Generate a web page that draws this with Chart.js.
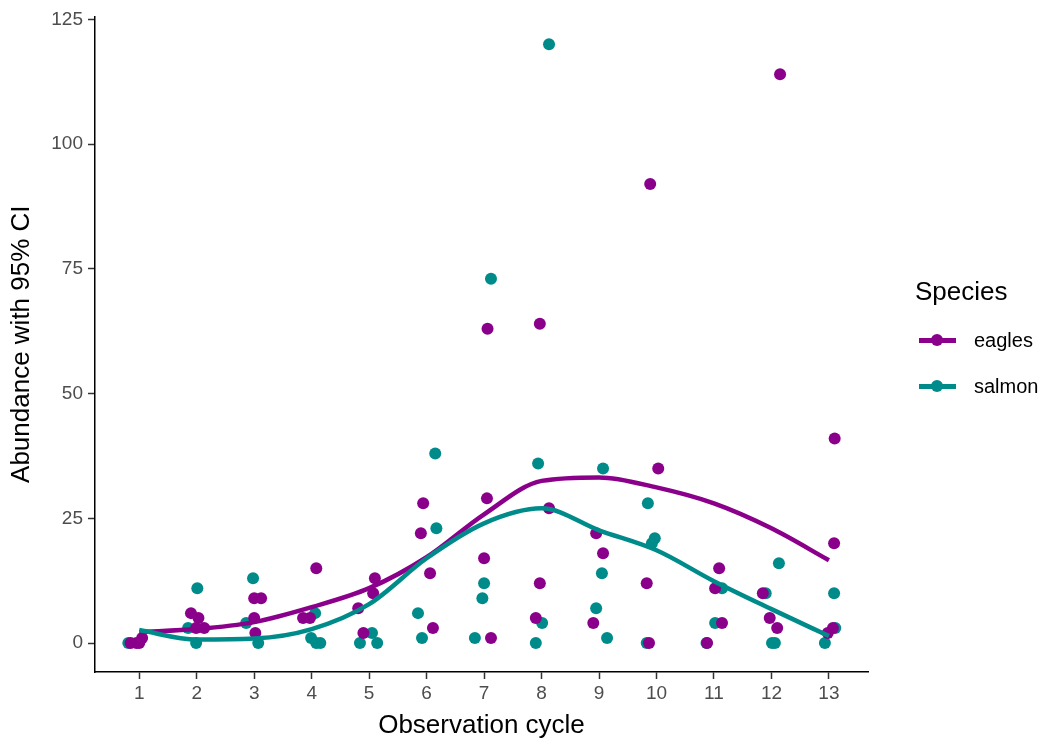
<!DOCTYPE html>
<html>
<head>
<meta charset="utf-8">
<script src="https://cdn.jsdelivr.net/npm/chart.js@4"></script>
<style>
  body { margin: 0; background: #fff; font-family: 'Liberation Sans', Arial, sans-serif; }
  #wrap { position: relative; width: 1045px; height: 744px; }
  .lg-title { position: absolute; left: 915px; top: 276px; font-size: 26px; line-height: 30px; color: #000; }
  .lg-item { position: absolute; left: 919px; height: 30px; width: 126px; }
  .lg-line { position: absolute; left: 0; top: 13px; width: 37px; height: 5px; }
  .lg-dot { position: absolute; left: 12px; top: 9px; width: 12px; height: 12px; border-radius: 50%; }
  .lg-text { position: absolute; left: 55px; top: 0; font-size: 20px; line-height: 30px; color: #000; }
</style>
</head>
<body>
<div id="wrap">
  <canvas id="chart" width="1045" height="744"></canvas>
  <div class="lg-title">Species</div>
  <div class="lg-item" style="top:325px">
    <div class="lg-line" style="background:#8B008B"></div>
    <div class="lg-dot" style="background:#8B008B"></div>
    <div class="lg-text">eagles</div>
  </div>
  <div class="lg-item" style="top:371px">
    <div class="lg-line" style="background:#008B8B"></div>
    <div class="lg-dot" style="background:#008B8B"></div>
    <div class="lg-text">salmon</div>
  </div>
</div>
<script>
// tick labels
const xTicks = [1, 2, 3, 4, 5, 6, 7, 8, 9, 10, 11, 12, 13];
const yTicks = [0, 25, 50, 75, 100, 125];

// smoothed fits, one value per cycle
const cycles = [1, 2, 3, 4, 5, 6, 7, 8, 9, 10, 11, 12, 13];
const eaglesFit = [2.2, 2.8, 4.2, 7.2, 11, 17.2, 25.8, 32.5, 33.2, 31.2, 28, 23, 16.6];
const salmonFit = [2.6, 0.7, 0.9, 2.8, 7.8, 17, 24, 27, 22.6, 18.6, 12.4, 6.8, 1.4];

// jittered observations (x = cycle with jitter, y = abundance)
const eaglesX = [0.85, 0.95, 1.0, 1.05,
  1.90, 2.03, 1.99, 2.13,
  3.00, 3.12, 3.00, 3.02,
  4.08, 3.85, 3.97,
  5.10, 5.07, 4.81, 4.90,
  5.94, 5.90, 6.06, 6.11,
  7.06, 7.05, 7.00, 7.12,
  7.97, 8.13, 7.97, 7.90,
  8.95, 9.07, 8.90,
  9.89, 10.03, 9.83, 9.87,
  11.09, 11.02, 11.14, 10.88,
  12.15, 11.85, 11.97, 12.10,
  13.10, 13.09, 13.07, 12.98];
const eaglesY = [0, 0, 0, 1,
  6, 5, 3, 3,
  9, 9, 5, 2,
  15, 5, 5,
  13, 10, 7, 2,
  28, 22, 14, 3,
  63, 29, 17, 1,
  64, 27, 12, 5,
  22, 18, 4,
  92, 35, 12, 0,
  15, 11, 4, 0,
  114, 10, 5, 3,
  41, 20, 3, 2];

const salmonX = [0.81,
  2.01, 1.85, 1.99,
  2.98, 2.86, 3.07,
  4.06, 3.99, 4.08, 4.15,
  5.05, 4.84, 5.14,
  6.15, 6.17, 5.85, 5.92,
  7.12, 7.00, 6.97, 6.84,
  8.13, 7.94, 8.01, 7.90,
  9.07, 9.05, 8.95, 9.14,
  9.85, 9.97, 9.92, 9.83,
  11.14, 11.02, 10.87,
  12.13, 11.90, 12.01, 12.06,
  13.09, 13.11, 12.93];
const salmonY = [0,
  11, 3, 0,
  13, 4, 0,
  6, 1, 0, 0,
  2, 0, 0,
  38, 23, 6, 1,
  73, 12, 9, 1,
  120, 36, 4, 0,
  35, 14, 7, 1,
  28, 21, 20, 0,
  11, 4, 0,
  16, 10, 0, 0,
  10, 3, 0];

const purple = '#8B008B';
const teal = '#008B8B';

function pairs(xs, ys) {
    return xs.map((x, i) => ({ x: x, y: ys[i] }));
}

Chart.defaults.font.family = "'Liberation Sans', Arial, sans-serif";

new Chart(document.getElementById('chart'), {
    type: 'scatter',
    data: {
        datasets: [{
            label: 'salmon fit',
            data: pairs(cycles, salmonFit),
            showLine: true,
            borderColor: teal,
            borderWidth: 4.5,
            pointRadius: 0,
            cubicInterpolationMode: 'monotone',
            order: 1
        }, {
            label: 'eagles fit',
            data: pairs(cycles, eaglesFit),
            showLine: true,
            borderColor: purple,
            borderWidth: 4.5,
            pointRadius: 0,
            cubicInterpolationMode: 'monotone',
            order: 2
        }, {
            label: 'eagles',
            data: pairs(eaglesX, eaglesY),
            backgroundColor: purple,
            borderWidth: 0,
            pointRadius: 6,
            order: 3
        }, {
            label: 'salmon',
            data: pairs(salmonX, salmonY),
            backgroundColor: teal,
            borderWidth: 0,
            pointRadius: 6,
            order: 4
        }]
    },
    options: {
        responsive: false,
        devicePixelRatio: 1,
        animation: false,
        layout: { padding: { left: 0, top: 15, right: 177, bottom: 0 } },
        plugins: {
            legend: { display: false },
            tooltip: { enabled: false }
        },
        scales: {
            x: {
                type: 'linear',
                min: 0.23,
                max: 13.68,
                afterBuildTicks: s => { s.ticks = xTicks.map(v => ({ value: v })); },
                afterFit: s => { s.height = 72; },
                ticks: { color: '#4D4D4D', font: { size: 19 }, padding: 3, autoSkip: false, maxRotation: 0 },
                grid: { drawOnChartArea: false, drawTicks: true, tickLength: 7, tickColor: '#333333', tickWidth: 1.5 },
                border: { display: true, color: '#000', width: 1.5 },
                title: { display: true, text: 'Observation cycle', color: '#000', font: { size: 26 }, padding: { top: 0, bottom: 3 } }
            },
            y: {
                type: 'linear',
                min: -5.8,
                max: 125.6,
                afterBuildTicks: s => { s.ticks = yTicks.map(v => ({ value: v })); },
                afterFit: s => { s.width = 95; },
                ticks: { color: '#4D4D4D', font: { size: 19 }, padding: 5 },
                grid: { drawOnChartArea: false, drawTicks: true, tickLength: 7, tickColor: '#333333', tickWidth: 1.5 },
                border: { display: true, color: '#000', width: 1.5 },
                title: { display: true, text: 'Abundance with 95% CI', color: '#000', font: { size: 26 }, padding: { top: 6, bottom: 0 } }
            }
        }
    }
});
</script>
</body>
</html>
